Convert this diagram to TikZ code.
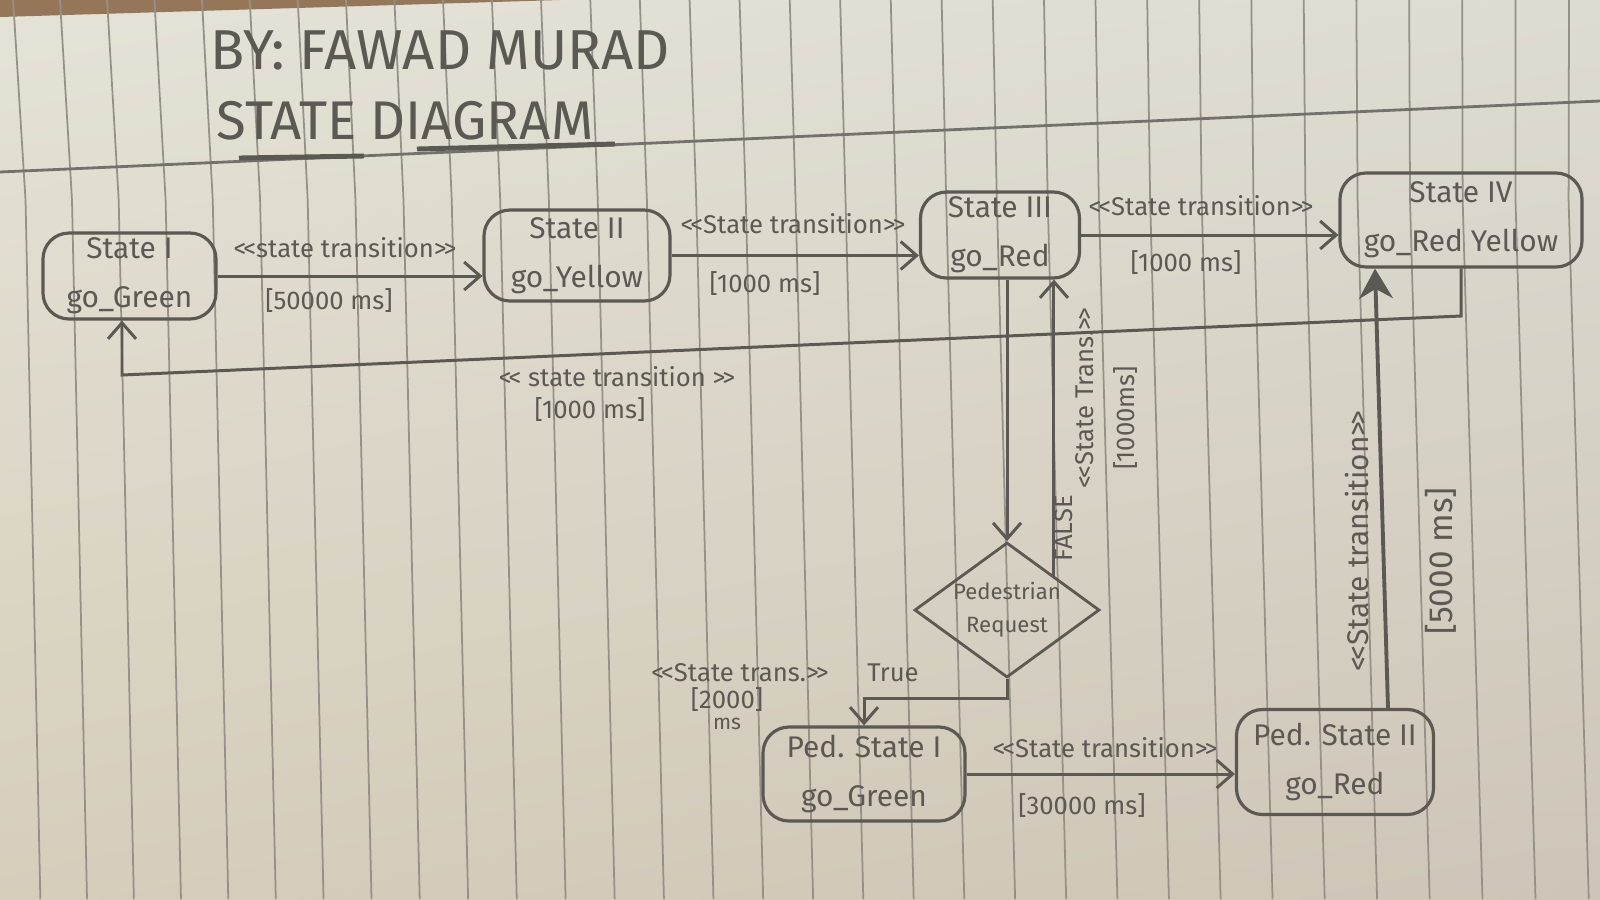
\documentclass[tikz,border=0pt]{standalone}
\usepackage{fontspec}
\setmainfont{Fira Sans}
\usetikzlibrary{arrows.meta,shapes.geometric,shadings}
\definecolor{paperUL}{RGB}{229,226,215}
\definecolor{paperUR}{RGB}{222,219,209}
\definecolor{paperLL}{RGB}{213,206,187}
\definecolor{paperLR}{RGB}{205,198,184}
\definecolor{desk}{RGB}{150,118,88}
\definecolor{paperline}{RGB}{150,145,135}
\definecolor{ink}{RGB}{92,88,82}
\newcommand{\dlt}{<\kern-.12em<}
\newcommand{\dgt}{>\kern-.12em>}
\tikzset{
  stbox/.style={draw=ink, line width=0.9pt, rounded corners=2.6mm, align=center, text=ink,
    font=\fontsize{8.5}{14}\selectfont, inner sep=0pt},
  lbl/.style={text=ink, font=\fontsize{7.3}{9}\selectfont, inner sep=0pt},
  ttl/.style={text=ink, font=\fontsize{16}{19}\selectfont, inner sep=0pt},
  conn/.style={draw=ink, line width=0.85pt},
  vee/.style={-{Straight Barb[length=1.6mm,width=2.8mm,line width=0.85pt]}},
  bold arrow/.style={line width=1.1pt, -{Stealth[length=3mm,width=3.4mm]}},
  pline/.style={draw=paperline, line width=0.5pt}
}
\begin{document}
\begin{tikzpicture}[x=0.1mm,y=-0.1mm]
% paper
\shade[upper left=paperUL, upper right=paperUR, lower left=paperLL, lower right=paperLR]
  (0,0) rectangle (1600,899);
\useasboundingbox (0,0) rectangle (1600,899);
\fill[desk] (0,0) -- (560,0) -- (0,17) -- cycle;
\foreach \k in {-1,...,31} {
  \pgfmathsetmacro{\xa}{60+47*\k+0.11*\k*\k}
  \pgfmathsetmacro{\oa}{12*(1-\k/29)}
  \pgfmathsetmacro{\ob}{27-7*\k/29}
  \draw[pline] (\xa,0) -- ({\xa+\oa},200) -- ({\xa+\ob},899);
}
\draw[draw=ink!85, line width=0.8pt] (0,172) -- (1600,101);

% title
\node[ttl] (t1) at (440,50) {BY: FAWAD MURAD};
\node[ttl, font=\fontsize{15.5}{19}\selectfont] (t2) at (405,121) {STATE DIAGRAM};
\draw[ink, line width=1.4pt] (239,158) -- (364,156);
\draw[ink, line width=1.4pt] (417,149) -- (615,144);

% states
\node[stbox, minimum width=17.3mm, minimum height=8.6mm] (s1) at (129.5,276) {State I\\go\_Green};
\node[stbox, minimum width=18.6mm, minimum height=9.1mm] (s2) at (577,255.5) {State II\\go\_Yellow};
\node[stbox, minimum width=15.9mm, minimum height=8.6mm] (s3) at (1000,235) {State III\\go\_Red};
\node[stbox, minimum width=24.2mm, minimum height=9.4mm] (s4) at (1461,220) {State IV\\go\_Red Yellow};
\node[stbox, minimum width=20.2mm, minimum height=9.4mm] (p1) at (864,774) {Ped. State I\\go\_Green};
\node[stbox, minimum width=19.7mm, minimum height=10.5mm] (p2) at (1335,762) {Ped. State II\\go\_Red};
\node[draw=ink, line width=0.8pt, shape=diamond, aspect=1.37, minimum width=18.5mm, minimum height=13.5mm,
      inner sep=-0.5mm, align=center, text=ink, font=\fontsize{6.3}{9.5}\selectfont] (dia) at (1007,610) {Pedestrian\\Request};

% connectors
\draw[conn,vee] (s1.east) -- (s1.east -| s2.west);
\draw[conn,vee] (s2.east) -- (s2.east -| s3.west);
\draw[conn,vee] (s3.east) -- (s3.east -| s4.west);
\coordinate (r1) at (1461,316);
\coordinate (r2) at (122,375);
\draw[conn,vee] (s4.south) -- (r1) -- (r2) -- (r2 |- s1.south);
\draw[conn,vee] (dia.north |- s3.south) -- (dia.north);
\draw[conn,vee] (dia.north east) -- (dia.north east |- s3.south);
\draw[conn,vee] (dia.south) -- ++(0,20) -| (p1.north);
\draw[conn,vee] (p1.east) -- (p1.east -| p2.west);
\draw[conn,bold arrow,draw=ink] ([xshift=5.3mm]p2.north) -- ([xshift=-8.6mm]s4.south);

% labels
\node[lbl] (l1a) at (345,248) {\dlt state transition\dgt};
\node[lbl] (l1b) at (329,301) {[50000 ms]};
\node[lbl] (l2a) at (793,224) {\dlt State transition\dgt};
\node[lbl] (l2b) at (765,284) {[1000 ms]};
\node[lbl] (l3a) at (1201,206) {\dlt State transition\dgt};
\node[lbl] (l3b) at (1186,263) {[1000 ms]};
\node[lbl] (l4a) at (617,377) {\dlt{} state transition \dgt};
\node[lbl] (l4b) at (590,410) {[1000 ms]};
\node[lbl] (l5a) at (1105,748) {\dlt State transition\dgt};
\node[lbl] (l5b) at (1082,806) {[30000 ms]};
\node[lbl] (l6a) at (740,673) {\dlt State trans.\dgt};
\node[lbl] (l6b) at (727,700) {[2000]};
\node[lbl, font=\fontsize{6}{7}\selectfont] (l6c) at (727,724) {ms};
\node[lbl] (tru) at (893,673) {True};
\node[lbl, rotate=90] (fls) at (1064,528) {FALSE};
\node[lbl, rotate=90] (l7a) at (1085,398) {\dlt State Trans.\dgt};
\node[lbl, rotate=90] (l7b) at (1126,418) {[1000ms]};
\node[lbl, rotate=90, font=\fontsize{8.5}{10}\selectfont] (l8a) at (1357,541) {\dlt State transition\dgt};
\node[lbl, rotate=90, font=\fontsize{9.5}{12}\selectfont] (l8b) at (1441,561) {[5000 ms]};
\end{tikzpicture}
\end{document}
